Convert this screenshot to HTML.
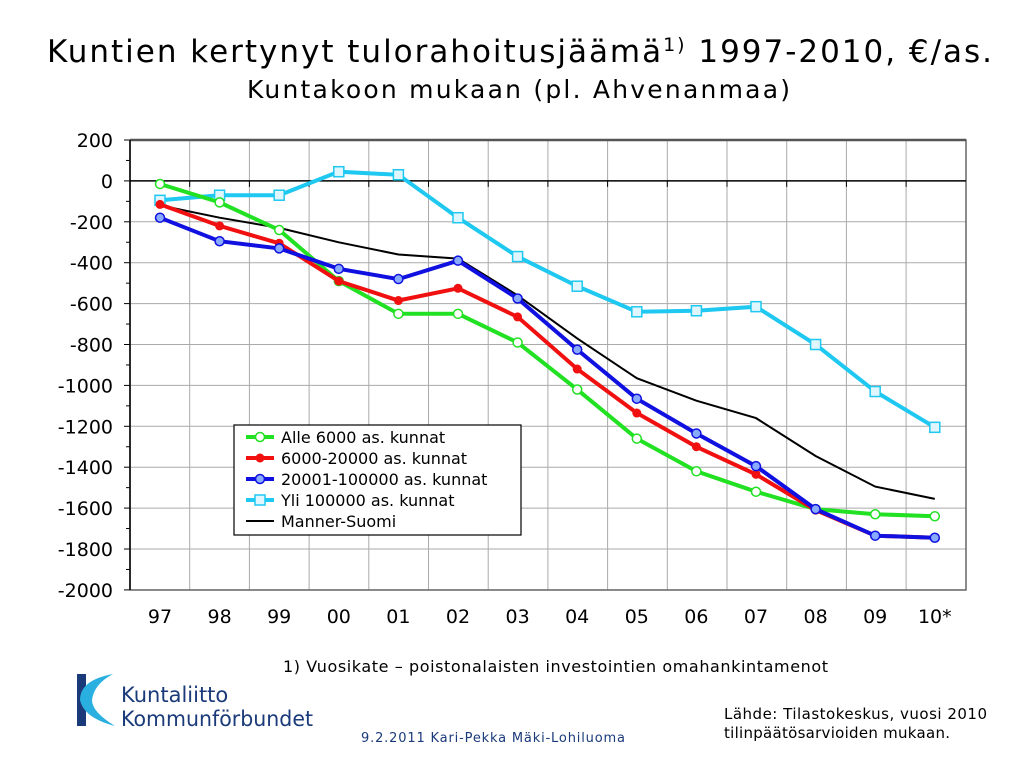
<!DOCTYPE html>
<html><head><meta charset="utf-8"><style>
body{margin:0;width:1024px;height:768px;background:#fff;overflow:hidden;font-family:"DejaVu Sans","Liberation Sans",sans-serif}
svg{position:absolute;left:0;top:0}
</style></head><body>
<svg id="s" width="1024" height="768" xmlns="http://www.w3.org/2000/svg" font-family="DejaVu Sans, Liberation Sans, sans-serif"></svg>
<script>
const s=document.getElementById('s');let h='';
const L=130,R=966,T=140,B=590;
const Y=v=>180.9-v*0.2045, X=i=>160+i*59.6;
h+=`<text x="47" y="62" font-size="31" textLength="945" lengthAdjust="spacing">Kuntien kertynyt tulorahoitusjäämä<tspan font-size="19" dy="-11">1)</tspan><tspan dy="11"> 1997-2010, €/as.</tspan></text>`;
h+=`<text x="247" y="98" font-size="25" textLength="543" lengthAdjust="spacing">Kuntakoon mukaan (pl. Ahvenanmaa)</text>`;
for(let v=200;v>=-2000;v-=200){const y=Y(v);h+=`<line x1="${L}" x2="${R}" y1="${y}" y2="${y}" stroke="#aaa" stroke-width="1"/>`;
h+=`<line x1="${L-6}" x2="${L}" y1="${y}" y2="${y}" stroke="#000"/>`;
if(v>-2000)h+=`<line x1="${L-4}" x2="${L}" y1="${Y(v-100)}" y2="${Y(v-100)}" stroke="#000"/>`;
h+=`<text x="113" y="${y+7}" font-size="19" text-anchor="end">${v}</text>`;}
for(let k=1;k<14;k++){const x=L+k*59.7;h+=`<line x1="${x}" x2="${x}" y1="${T}" y2="${B}" stroke="#aaa"/>`;h+=`<line x1="${x}" x2="${x}" y1="${Y(0)}" y2="${Y(0)+6}" stroke="#000"/>`;}
h+=`<rect x="${L}" y="${T}" width="${R-L}" height="${B-T}" fill="none" stroke="#666" stroke-width="1.5"/>`;
h+=`<line x1="${L}" x2="${R}" y1="${T}" y2="${T}" stroke="#555" stroke-width="2.5"/>`;
h+=`<line x1="${L}" x2="${L}" y1="${T}" y2="${B}" stroke="#000" stroke-width="1.5"/>`;
h+=`<line x1="${L}" x2="${R}" y1="${Y(0)}" y2="${Y(0)}" stroke="#000" stroke-width="1.5"/>`;
['97','98','99','00','01','02','03','04','05','06','07','08','09','10*'].forEach((t,i)=>h+=`<text x="${X(i)}" y="623" font-size="19" text-anchor="middle">${t}</text>`);
const D={
black:[-120,-180,-230,-300,-360,-380,-560,-770,-965,-1075,-1160,-1345,-1495,-1555],
cyan:[-95,-70,-70,45,30,-180,-370,-515,-640,-635,-615,-800,-1030,-1205],
green:[-15,-105,-240,-490,-650,-650,-790,-1020,-1260,-1420,-1520,-1605,-1630,-1640],
red:[-115,-220,-305,-490,-585,-525,-665,-920,-1135,-1300,-1435,-1610,-1735,-1745],
blue:[-180,-295,-330,-430,-480,-390,-575,-825,-1065,-1235,-1395,-1605,-1735,-1745]};
const pl=a=>a.map((v,i)=>X(i).toFixed(1)+','+Y(v).toFixed(1)).join(' ');
h+=`<polyline points="${pl(D.black)}" fill="none" stroke="#000" stroke-width="2"/>`;
h+=`<polyline points="${pl(D.cyan)}" fill="none" stroke="#1ec8f0" stroke-width="4"/>`;
D.cyan.forEach((v,i)=>h+=`<rect x="${X(i)-5}" y="${Y(v)-5}" width="10" height="10" fill="#dff6ff" stroke="#1ec8f0" stroke-width="1.5"/>`);
h+=`<polyline points="${pl(D.green)}" fill="none" stroke="#22e022" stroke-width="4"/>`;
D.green.forEach((v,i)=>h+=`<circle cx="${X(i)}" cy="${Y(v)}" r="4.5" fill="#fff" stroke="#22e022" stroke-width="1.5"/>`);
h+=`<polyline points="${pl(D.red)}" fill="none" stroke="#f01010" stroke-width="4"/>`;
D.red.forEach((v,i)=>h+=`<circle cx="${X(i)}" cy="${Y(v)}" r="4.5" fill="#f01010"/>`);
h+=`<polyline points="${pl(D.blue)}" fill="none" stroke="#1010e0" stroke-width="4"/>`;
D.blue.forEach((v,i)=>h+=`<circle cx="${X(i)}" cy="${Y(v)}" r="4.5" fill="#88aaff" stroke="#1010e0" stroke-width="1.5"/>`);
h+=`<rect x="234" y="425" width="287" height="110" fill="#fff" stroke="#000" stroke-width="1.2"/>`;
const lg=[['Alle 6000 as. kunnat','#22e022','o'],['6000-20000 as. kunnat','#f01010','f'],['20001-100000 as. kunnat','#1010e0','b'],['Yli 100000 as. kunnat','#1ec8f0','s'],['Manner-Suomi','#000','n']];
lg.forEach((e,i)=>{const y=437+i*21;h+=`<line x1="246" x2="274" y1="${y}" y2="${y}" stroke="${e[1]}" stroke-width="${e[2]=='n'?2:4}"/>`;
if(e[2]=='o')h+=`<circle cx="260" cy="${y}" r="4.5" fill="#fff" stroke="${e[1]}" stroke-width="1.5"/>`;
if(e[2]=='f')h+=`<circle cx="260" cy="${y}" r="4.5" fill="${e[1]}"/>`;
if(e[2]=='b')h+=`<circle cx="260" cy="${y}" r="4.5" fill="#88aaff" stroke="${e[1]}" stroke-width="1.5"/>`;
if(e[2]=='s')h+=`<rect x="255" y="${y-5}" width="10" height="10" fill="#dff6ff" stroke="${e[1]}" stroke-width="1.5"/>`;
h+=`<text x="281" y="${y+6}" font-size="16">${e[0]}</text>`;});
h+=`<text x="283" y="672" font-size="16" textLength="545" lengthAdjust="spacing">1) Vuosikate – poistonalaisten investointien omahankintamenot</text>`;
h+=`<rect x="77" y="674" width="9" height="52" fill="#1a3a7a"/>`;
h+=`<path d="M113 674 Q80 680 80 700 Q84 718 115 726 Q92 712 92 700 Q94 684 113 674Z" fill="#2ab0e0"/>`;
h+=`<text x="121" y="702" font-size="21" fill="#1a3a7a">Kuntaliitto</text>`;
h+=`<text x="121" y="726" font-size="21" fill="#1a3a7a" textLength="192" lengthAdjust="spacingAndGlyphs">Kommunförbundet</text>`;
h+=`<text x="361" y="742" font-size="13" fill="#1a3a7a" textLength="264" lengthAdjust="spacing">9.2.2011 Kari-Pekka Mäki-Lohiluoma</text>`;
h+=`<text x="724" y="719" font-size="15" textLength="263" lengthAdjust="spacing">Lähde: Tilastokeskus, vuosi 2010</text>`;
h+=`<text x="724" y="738" font-size="15" textLength="226" lengthAdjust="spacing">tilinpäätösarvioiden mukaan.</text>`;
s.innerHTML=h;
</script>
</body></html>
